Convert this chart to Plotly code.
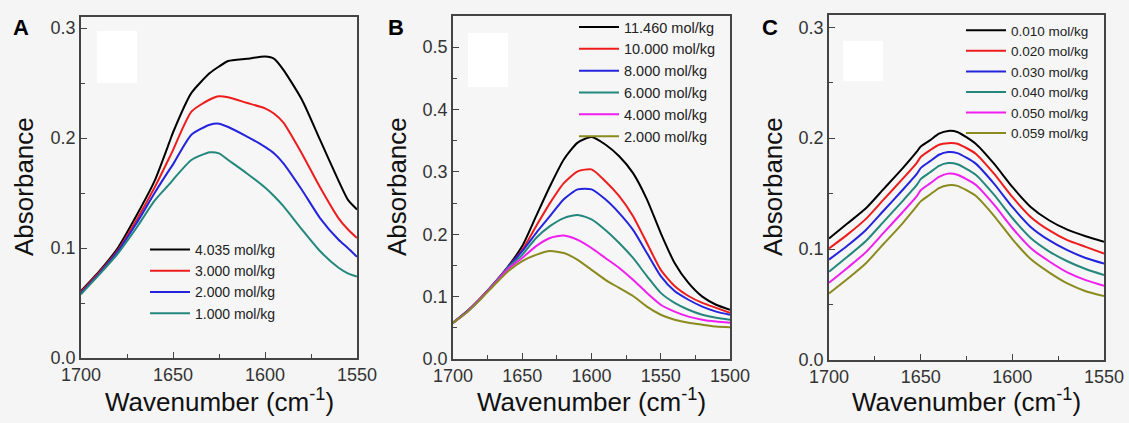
import plotly.graph_objects as go

# ---------------- data ----------------
# Panel A
wn_a = [1700, 1690, 1680, 1670, 1660, 1652, 1650, 1640, 1630, 1625, 1620, 1610, 1600,
        1595, 1590, 1580, 1570, 1560, 1555, 1550]
a_4035 = [0.061, 0.079, 0.100, 0.129, 0.161, 0.196, 0.205, 0.241, 0.259, 0.265, 0.270, 0.272, 0.274,
          0.272, 0.262, 0.235, 0.198, 0.161, 0.144, 0.135]
a_3000 = [0.060, 0.078, 0.098, 0.125, 0.155, 0.182, 0.189, 0.224, 0.235, 0.238, 0.237, 0.232, 0.227,
          0.222, 0.214, 0.186, 0.155, 0.127, 0.117, 0.109]
a_2000 = [0.059, 0.077, 0.097, 0.122, 0.150, 0.171, 0.176, 0.203, 0.212, 0.213, 0.210, 0.2015, 0.192,
          0.186, 0.177, 0.153, 0.127, 0.1075, 0.100, 0.092]
a_1000 = [0.058, 0.076, 0.095, 0.118, 0.143, 0.158, 0.162, 0.180, 0.187, 0.186, 0.180, 0.168, 0.155,
          0.147, 0.138, 0.117, 0.097, 0.082, 0.077, 0.074]
labels_a = ["4.035 mol/kg", "3.000 mol/kg", "2.000 mol/kg", "1.000 mol/kg"]

# Panel B
wn_b = [1700, 1690, 1680, 1670, 1660, 1650, 1640, 1630, 1620, 1610, 1600, 1590, 1580,
        1570, 1560, 1550, 1540, 1530, 1520, 1510, 1500]
b_11460 = [0.058, 0.076, 0.098, 0.122, 0.149, 0.181, 0.229, 0.277, 0.320, 0.347, 0.356, 0.344, 0.325,
           0.298, 0.256, 0.202, 0.154, 0.122, 0.100, 0.087, 0.079]
b_10000 = [0.058, 0.076, 0.098, 0.122, 0.148, 0.175, 0.213, 0.250, 0.282, 0.301, 0.304, 0.285, 0.261,
           0.229, 0.186, 0.143, 0.117, 0.101, 0.090, 0.082, 0.074]
b_8000 = [0.058, 0.076, 0.097, 0.122, 0.148, 0.173, 0.202, 0.229, 0.256, 0.272, 0.272, 0.256, 0.234,
          0.207, 0.170, 0.133, 0.109, 0.095, 0.084, 0.076, 0.071]
b_6000 = [0.058, 0.075, 0.097, 0.122, 0.147, 0.167, 0.194, 0.213, 0.226, 0.231, 0.224, 0.207, 0.186,
          0.162, 0.133, 0.106, 0.090, 0.079, 0.071, 0.066, 0.063]
b_4000 = [0.058, 0.075, 0.097, 0.121, 0.145, 0.162, 0.181, 0.194, 0.198, 0.191, 0.178, 0.162, 0.146,
          0.127, 0.106, 0.087, 0.076, 0.068, 0.063, 0.060, 0.058]
b_2000 = [0.058, 0.075, 0.096, 0.119, 0.141, 0.157, 0.167, 0.173, 0.170, 0.159, 0.143, 0.127, 0.114,
          0.101, 0.084, 0.071, 0.063, 0.058, 0.055, 0.052, 0.051]
labels_b = ["11.460 mol/kg", "10.000 mol/kg", "8.000 mol/kg", "6.000 mol/kg",
            "4.000 mol/kg", "2.000 mol/kg"]

# Panel C
wn_c = [1700, 1690, 1680, 1670, 1660, 1652, 1650, 1645, 1640, 1635, 1630, 1620, 1610,
        1600, 1590, 1580, 1570, 1560, 1550]
c_010 = [0.1095, 0.123, 0.1365, 0.1545, 0.1725, 0.188, 0.1925, 0.198, 0.204, 0.2065, 0.2055, 0.195, 0.177,
         0.156, 0.138, 0.126, 0.1175, 0.1115, 0.1065]
c_020 = [0.1005, 0.113, 0.127, 0.145, 0.163, 0.178, 0.183, 0.189, 0.194, 0.1955, 0.195, 0.186, 0.168,
         0.147, 0.129, 0.117, 0.108, 0.102, 0.096]
c_030 = [0.0905, 0.103, 0.117, 0.135, 0.153, 0.168, 0.173, 0.179, 0.185, 0.1875, 0.1865, 0.177, 0.159,
         0.138, 0.120, 0.108, 0.099, 0.092, 0.087]
c_040 = [0.0795, 0.093, 0.107, 0.125, 0.143, 0.158, 0.163, 0.169, 0.175, 0.1775, 0.1765, 0.167, 0.149,
         0.128, 0.110, 0.098, 0.089, 0.082, 0.0765]
c_050 = [0.0696, 0.083, 0.097, 0.115, 0.133, 0.148, 0.153, 0.159, 0.165, 0.168, 0.167, 0.158, 0.140,
         0.119, 0.101, 0.089, 0.079, 0.072, 0.067]
c_059 = [0.060, 0.073, 0.087, 0.105, 0.123, 0.139, 0.143, 0.149, 0.155, 0.1575, 0.157, 0.148, 0.130,
         0.109, 0.091, 0.079, 0.069, 0.062, 0.0576]
labels_c = ["0.010 mol/kg", "0.020 mol/kg", "0.030 mol/kg", "0.040 mol/kg",
            "0.050 mol/kg", "0.059 mol/kg"]

colors6 = ["#000000", "#ee1c1c", "#2424dd", "#24877c", "#f01ef0", "#8a8a1e"]

# ---------------- figure ----------------
W, H = 1129, 423
fig = go.Figure()


def px_x(p):
    return p / W


def px_y(p):
    return 1 - p / H


panels = [
    ("", "legend", wn_a, [a_4035, a_3000, a_2000, a_1000], labels_a, [1700, 1550], [0, 0.31], (81, 357, 17, 358)),
    ("2", "legend2", wn_b, [b_11460, b_10000, b_8000, b_6000, b_4000, b_2000], labels_b, [1700, 1500], [0, 0.55], (453, 730, 16, 359)),
    ("3", "legend3", wn_c, [c_010, c_020, c_030, c_040, c_050, c_059], labels_c, [1700, 1550], [0, 0.311], (829, 1104, 15, 360)),
]

axis_common = dict(
    showline=True, linecolor="#444444", linewidth=1.6, mirror=True,
    ticks="inside", ticklen=6, tickwidth=1.4, tickcolor="#444444",
    showgrid=False, zeroline=False, automargin=False,
    tickfont=dict(family="Arial, Liberation Sans", size=18, color="#333333"),
)

for ax, leg, wn, series, labels, xr, yr, fr in panels:
    for s, lab, col in zip(series, labels, colors6):
        fig.add_trace(go.Scatter(
            x=wn, y=s, mode="lines", name=lab,
            line=dict(color=col, width=2, shape="spline", smoothing=0.6),
            xaxis="x" + ax, yaxis="y" + ax, legend=leg,
        ))
    l, r, t, b = fr
    fig.update_layout(**{
        "xaxis" + ax: dict(
            axis_common, domain=[px_x(l), px_x(r)], range=xr, anchor="y" + ax,
            dtick=50, tickformat="d",
            minor=dict(ticks="inside", ticklen=4, tickwidth=1.2, tickcolor="#444444", dtick=25),
        ),
        "yaxis" + ax: dict(
            axis_common, domain=[px_y(b), px_y(t)], range=yr, anchor="x" + ax,
            dtick=0.1, tickformat=".1f",
            minor=dict(ticks="inside", ticklen=4, tickwidth=1.2, tickcolor="#444444", dtick=0.05),
        ),
    })

# masked white rectangle in the upper-left of each panel
for x0, x1, y0, y1 in [(97, 137, 31, 83), (468, 508, 33, 87), (843, 883, 41, 81)]:
    fig.add_shape(type="rect", xref="paper", yref="paper", x0=px_x(x0), x1=px_x(x1),
                  y0=px_y(y1), y1=px_y(y0), fillcolor="white", line_width=0, layer="below")

legend_common = dict(
    bgcolor="rgba(0,0,0,0)", borderwidth=0,
    font=dict(family="Arial, Liberation Sans", size=14.5, color="#222222"),
    xanchor="left", yanchor="top", tracegroupgap=0, itemwidth=40,
)
fig.update_layout(
    legend=dict(legend_common, x=px_x(145), y=px_y(234), font=dict(legend_common["font"], size=14)),
    legend2=dict(legend_common, x=px_x(574), y=px_y(11)),
    legend3=dict(legend_common, x=px_x(961), y=px_y(15), font=dict(legend_common["font"], size=13.5)),
)

# axis titles and panel letters
title_font = dict(family="Arial, Liberation Sans", size=26, color="#111111")
ann = []
xt_centers = [219, 591, 966]
yt_x = [24, 397, 773]
for cx in xt_centers:
    ann.append(dict(text="Wavenumber (cm<sup>-1</sup>)", x=px_x(cx), y=px_y(400), xref="paper", yref="paper",
                    showarrow=False, xanchor="center", yanchor="middle", font=title_font))
for xx in yt_x:
    ann.append(dict(text="Absorbance", x=px_x(xx), y=px_y(187), xref="paper", yref="paper",
                    showarrow=False, textangle=-90, xanchor="center", yanchor="middle", font=title_font))
for letter, xx in [("A", 21), ("B", 396), ("C", 770)]:
    ann.append(dict(text="<b>" + letter + "</b>", x=px_x(xx), y=px_y(28), xref="paper", yref="paper",
                    showarrow=False, xanchor="center", yanchor="middle",
                    font=dict(family="Arial, Liberation Sans", size=22, color="#000000")))
fig.update_layout(annotations=ann)

fig.update_layout(
    width=W, height=H, margin=dict(l=0, r=0, t=0, b=0),
    paper_bgcolor="#f5f5f5", plot_bgcolor="#f6f6f6",
    showlegend=True,
)

fig.write_html("out.html", config={"displayModeBar": False},
               post_script="document.body.style.margin='0';document.body.style.overflow='hidden';")
